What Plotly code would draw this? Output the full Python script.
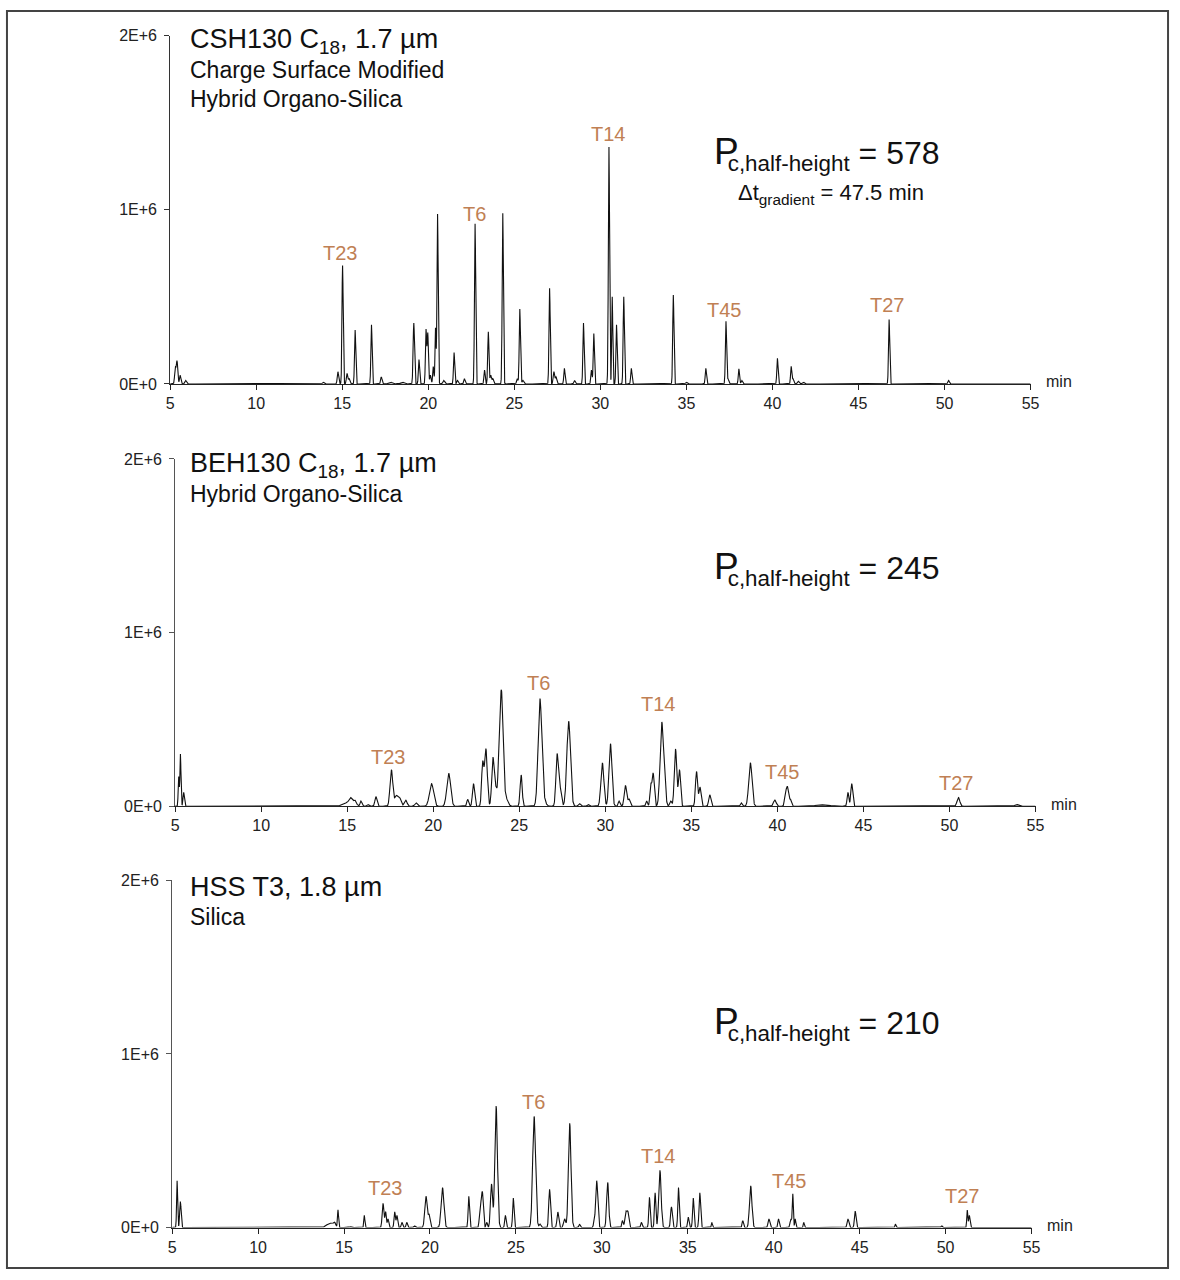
import numpy as np
import plotly.graph_objects as go

W, H = 1180, 1280
FONT = "Liberation Sans, Arial, sans-serif"
LABEL_COLOR = "#c08054"

# ---------------- data ----------------
x_tickvals = [5, 10, 15, 20, 25, 30, 35, 40, 45, 50, 55]
y_tickvals = [0, 1e6, 2e6]
y_ticktext = ["0E+0", "1E+6", "2E+6"]

# CSH130 C18 peaks: retention time (min), height (x1E+6), sigma (min)
csh_rt = [5.30, 5.40, 5.58, 5.90, 13.90, 14.75, 15.02, 15.28, 15.40, 15.75, 16.70, 17.27, 17.80, 18.50,
          19.16, 19.46, 19.87, 19.97, 20.12, 20.29, 20.42, 20.54, 20.90, 21.50, 21.70, 22.10, 22.72,
          23.27, 23.49, 23.63, 23.75, 24.33, 25.17, 25.32, 25.50, 27.05, 27.30, 27.42, 27.91, 28.50,
          29.02, 29.48, 29.62, 30.50, 30.69, 30.94, 31.36, 31.80, 34.24, 35.00, 36.13, 37.30, 37.42,
          38.05, 38.22, 40.29, 41.09, 41.20, 41.50, 41.80, 46.78, 50.23]
csh_h = [0.09, 0.13, 0.05, 0.02, 0.01, 0.07, 0.68, 0.06, 0.03, 0.31, 0.34, 0.04, 0.01, 0.01,
         0.35, 0.14, 0.31, 0.29, 0.05, 0.10, 0.32, 0.975, 0.02, 0.18, 0.02, 0.03, 0.92,
         0.08, 0.30, 0.05, 0.03, 0.98, 0.03, 0.43, 0.02, 0.55, 0.07, 0.04, 0.09, 0.02,
         0.35, 0.08, 0.29, 1.36, 0.50, 0.34, 0.50, 0.09, 0.51, 0.01, 0.09, 0.36, 0.03,
         0.087, 0.02, 0.147, 0.10, 0.03, 0.015, 0.01, 0.37, 0.02]
csh_w = [0.04, 0.04, 0.04, 0.05, 0.05, 0.04, 0.035, 0.04, 0.04, 0.035, 0.035, 0.04, 0.1, 0.1,
         0.04, 0.035, 0.035, 0.035, 0.04, 0.035, 0.03, 0.035, 0.05, 0.035, 0.04, 0.04, 0.035,
         0.035, 0.035, 0.04, 0.04, 0.035, 0.04, 0.035, 0.05, 0.035, 0.04, 0.04, 0.035, 0.04,
         0.035, 0.035, 0.035, 0.035, 0.03, 0.035, 0.035, 0.035, 0.035, 0.05, 0.035, 0.035, 0.04,
         0.035, 0.04, 0.035, 0.035, 0.04, 0.05, 0.05, 0.035, 0.04]

# BEH130 C18 peaks
beh_rt = [5.21, 5.31, 5.50, 15.00, 15.20, 15.45, 15.80, 16.20, 16.67, 17.57, 17.85, 18.05, 18.40,
          19.00, 19.90, 20.90, 22.00, 22.34, 22.87, 23.06, 23.47, 23.65, 23.82, 23.96, 24.20, 25.11,
          26.20, 26.40, 27.20, 27.38, 27.87, 28.50, 29.00, 29.83, 30.30, 30.80, 31.17, 31.38, 32.40,
          32.64, 32.78, 33.28, 33.45, 33.80, 34.08, 34.31, 35.30, 35.50, 36.07, 37.90, 38.43, 39.85,
          40.46, 40.58, 40.75, 42.60, 44.10, 44.32, 50.52, 53.90]
beh_h = [0.17, 0.30, 0.08, 0.02, 0.035, 0.03, 0.03, 0.01, 0.055, 0.21, 0.06, 0.045, 0.035,
         0.02, 0.13, 0.19, 0.04, 0.13, 0.24, 0.33, 0.28, 0.10, 0.20, 0.66, 0.05, 0.18,
         0.61, 0.04, 0.30, 0.10, 0.49, 0.015, 0.01, 0.25, 0.36, 0.03, 0.12, 0.04, 0.03,
         0.12, 0.19, 0.48, 0.10, 0.03, 0.33, 0.21, 0.20, 0.11, 0.066, 0.02, 0.25, 0.036,
         0.07, 0.11, 0.04, 0.008, 0.08, 0.13, 0.05, 0.01]
beh_w = [0.03, 0.03, 0.04, 0.25, 0.09, 0.09, 0.05, 0.06, 0.06, 0.08, 0.09, 0.08, 0.08,
         0.07, 0.12, 0.11, 0.05, 0.06, 0.06, 0.08, 0.07, 0.07, 0.05, 0.095, 0.12, 0.06,
         0.105, 0.12, 0.07, 0.07, 0.105, 0.06, 0.06, 0.085, 0.085, 0.05, 0.07, 0.06, 0.05,
         0.05, 0.06, 0.095, 0.07, 0.06, 0.07, 0.06, 0.06, 0.06, 0.06, 0.05, 0.095, 0.08,
         0.05, 0.06, 0.06, 0.4, 0.05, 0.055, 0.08, 0.1]

# HSS T3 peaks
hss_rt = [5.29, 5.48, 14.20, 14.45, 14.65, 15.40, 16.18, 17.27, 17.42, 17.56, 17.95, 18.08, 18.37,
          18.65, 19.10, 19.77, 19.95, 20.73, 22.26, 22.93, 23.05, 23.30, 23.58, 23.85, 24.39, 24.85,
          26.06, 26.40, 26.96, 27.44, 27.83, 28.13, 28.70, 29.55, 29.70, 30.34, 31.20, 31.40, 31.52,
          32.30, 32.77, 33.10, 33.38, 34.05, 34.46, 35.03, 35.32, 35.70, 36.40, 38.20, 38.66, 39.72,
          40.28, 41.00, 41.11, 41.25, 41.75, 44.32, 44.74, 47.08, 49.77, 51.26, 51.38]
hss_h = [0.27, 0.15, 0.025, 0.02, 0.10, 0.005, 0.07, 0.14, 0.09, 0.05, 0.09, 0.07, 0.03,
         0.03, 0.01, 0.18, 0.07, 0.23, 0.18, 0.14, 0.20, 0.03, 0.25, 0.70, 0.07, 0.17,
         0.64, 0.02, 0.22, 0.09, 0.05, 0.60, 0.02, 0.03, 0.27, 0.26, 0.04, 0.09, 0.08,
         0.03, 0.175, 0.20, 0.33, 0.12, 0.23, 0.06, 0.17, 0.20, 0.03, 0.04, 0.24, 0.05,
         0.05, 0.05, 0.19, 0.05, 0.03, 0.05, 0.095, 0.02, 0.01, 0.10, 0.07]
hss_w = [0.03, 0.04, 0.2, 0.06, 0.03, 0.05, 0.03, 0.05, 0.04, 0.04, 0.04, 0.04, 0.04,
         0.04, 0.05, 0.07, 0.05, 0.08, 0.04, 0.05, 0.05, 0.04, 0.06, 0.075, 0.04, 0.04,
         0.085, 0.05, 0.05, 0.05, 0.06, 0.075, 0.04, 0.04, 0.06, 0.06, 0.04, 0.06, 0.05,
         0.04, 0.04, 0.04, 0.07, 0.05, 0.04, 0.04, 0.04, 0.045, 0.03, 0.04, 0.07, 0.05,
         0.04, 0.05, 0.03, 0.03, 0.03, 0.05, 0.045, 0.03, 0.04, 0.03, 0.04]

peak_names = ["T23", "T6", "T14", "T45", "T27"]
# label anchor positions (min, x1E+6) per panel
csh_lab_x = [14.89, 22.70, 30.46, 37.18, 46.67]
csh_lab_y = [0.754, 0.977, 1.433, 0.425, 0.453]
beh_lab_x = [17.36, 26.09, 33.09, 40.29, 50.40]
beh_lab_y = [0.282, 0.710, 0.587, 0.195, 0.134]
hss_lab_x = [17.41, 26.04, 33.27, 40.90, 50.97]
hss_lab_y = [0.229, 0.722, 0.411, 0.267, 0.182]

titles = ["CSH130 C<sub>18</sub>, 1.7 µm", "BEH130 C<sub>18</sub>, 1.7 µm", "HSS T3, 1.8 µm"]
subtitles = [["Charge Surface Modified", "Hybrid Organo-Silica"], ["Hybrid Organo-Silica"], ["Silica"]]
pc_values = ["578", "245", "210"]
gradient_text = "Δt<sub>gradient</sub> = 47.5 min"

# ---------------- build chromatograms ----------------
t = np.arange(5.0, 55.0001, 0.005)


def chromatogram(rt, h, w):
    y = np.zeros_like(t)
    for r, a, s in zip(rt, h, w):
        y += a * 1e6 * np.exp(-0.5 * ((t - r) / s) ** 2)
    return y


panels = [
    dict(rt=csh_rt, h=csh_h, w=csh_w, lx=csh_lab_x, ly=csh_lab_y, xd=(168, 1038), yd=(381, 28), axc="#333333"),
    dict(rt=beh_rt, h=beh_h, w=beh_w, lx=beh_lab_x, ly=beh_lab_y, xd=(173, 1043), yd=(809, 457), axc="#555555"),
    dict(rt=hss_rt, h=hss_h, w=hss_w, lx=hss_lab_x, ly=hss_lab_y, xd=(170, 1039), yd=(1236, 884), axc="#555555"),
]

fig = go.Figure()
annotations = []


def px_ann(xp, yp, text, size, color="#111111", xanchor="left"):
    annotations.append(dict(
        x=xp / W, y=1 - yp / H, xref="paper", yref="paper", text=text, showarrow=False,
        xanchor=xanchor, yanchor="middle", font=dict(family=FONT, size=size, color=color)))


layout_axes = {}
for i, p in enumerate(panels):
    n = "" if i == 0 else str(i + 1)
    fig.add_trace(go.Scatter(
        x=t, y=chromatogram(p["rt"], p["h"], p["w"]), mode="lines",
        line=dict(color="#111111", width=1.1), xaxis="x" + n, yaxis="y" + n,
        showlegend=False, hoverinfo="skip"))
    layout_axes["xaxis" + n] = dict(
        domain=[p["xd"][0] / W, p["xd"][1] / W], range=[5, 55], anchor="y" + n,
        tickvals=x_tickvals, ticks="outside", ticklen=5, tickcolor="#222222",
        showline=True, linecolor="#222222", linewidth=1, showgrid=False, zeroline=False,
        tickfont=dict(family=FONT, size=16, color="#222222"), fixedrange=True)
    layout_axes["yaxis" + n] = dict(
        domain=[1 - p["yd"][0] / H, 1 - p["yd"][1] / H], range=[0, 2e6], anchor="x" + n,
        tickvals=y_tickvals, ticktext=y_ticktext, ticks="outside", ticklen=5,
        tickcolor=p["axc"], showline=True, linecolor=p["axc"], linewidth=1,
        showgrid=False, zeroline=False, ticklabelstandoff=4,
        tickfont=dict(family=FONT, size=16, color="#222222"), fixedrange=True)

    # peak labels
    for name, lx, ly in zip(peak_names, p["lx"], p["ly"]):
        annotations.append(dict(
            x=lx, y=ly * 1e6, xref="x" + n, yref="y" + n, text=name, showarrow=False,
            xanchor="center", yanchor="middle",
            font=dict(family=FONT, size=20, color=LABEL_COLOR)))
    # "min" label
    annotations.append(dict(
        x=55, y=0, xref="x" + n, yref="y" + n, text="min", showarrow=False,
        xanchor="left", yanchor="middle", xshift=13, yshift=2,
        font=dict(family=FONT, size=16, color="#222222")))

# panel texts (pixel positions)
title_y = [33, 463, 891]
for i in range(3):
    px_ann(186, title_y[i], titles[i], 27)
    for j, s in enumerate(subtitles[i]):
        px_ann(186, title_y[i] + 30 + 29.5 * j, s, 23)

pc_off = [0, 421, 882]
for i in range(3):
    o = pc_off[i]
    px_ann(716, 147 + o,
           "<span style='font-size:37px;letter-spacing:-11px'>P</span><sub>c,half-height</sub> = "
           + pc_values[i], 32)

# gradient time (top panel only)
px_ann(740, 188, gradient_text, 22)

fig.update_layout(
    width=W, height=H, margin=dict(l=0, r=0, t=0, b=0),
    paper_bgcolor="white", plot_bgcolor="white",
    annotations=annotations,
    shapes=[dict(type="rect", xref="paper", yref="paper",
                 x0=3 / W, x1=1177 / W, y0=1 - 1277 / H, y1=1 - 3 / H,
                 line=dict(color="#444444", width=2))],
    **layout_axes)

post = (
    "document.documentElement.style.margin='0';"
    "document.documentElement.style.overflow='hidden';"
    "document.body.style.margin='0';"
    "document.body.style.overflow='hidden';"
)

fig.write_html("out.html", config={"displayModeBar": False}, post_script=post)
